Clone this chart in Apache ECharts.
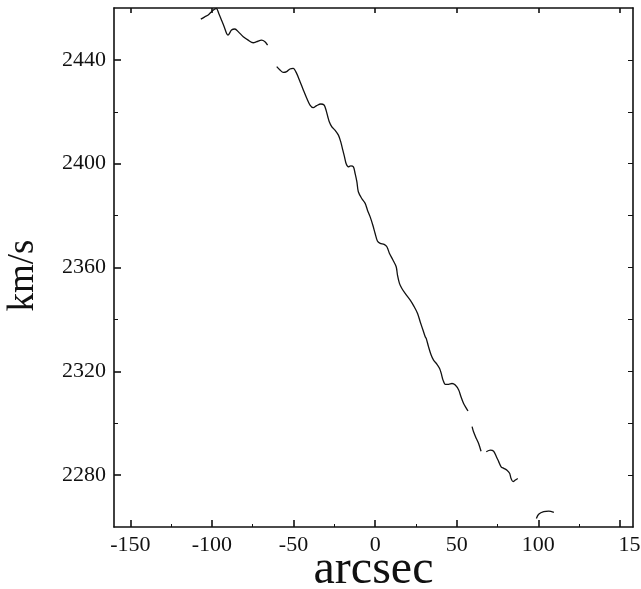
<!DOCTYPE html>
<html>
<head>
<meta charset="utf-8">
<script src="https://cdn.jsdelivr.net/npm/echarts@6/dist/echarts.min.js"></script>
<style>
html,body{margin:0;padding:0;background:#fff;overflow:hidden;}
#chart{width:641px;height:589px;}
</style>
</head>
<body>
<div id="chart"></div>
<script>
// Rotation curve: position along slit (arcsec) vs velocity (km/s); null = gap
const arcsec = [
  -106.8,-104.4,-102.3,-100.2,-98.2,-97.2,-95.8,-94.1,-92.5,-91.0,-90.1,-88.0,-85.9,-83.9,-80.8,-77.8,-74.7,-72.6,-69.6,-67.5,-65.9,
  null,
  -60.3,-58.3,-56.3,-54.2,-52.2,-50.2,-48.1,-46.0,-44.0,-41.9,-39.9,-37.9,-35.8,-33.3,-31.3,-30.1,-29.0,-28.1,-26.6,-24.6,-22.5,-21.1,-19.8,-18.8,-17.8,-16.4,-14.9,-13.3,-12.3,-11.2,-10.3,-8.2,-6.1,-4.7,-3.1,-1.4,0.0,1.4,3.1,5.5,7.2,8.8,10.9,12.9,13.7,14.9,16.4,18.4,21.5,23.9,26.0,27.6,29.3,30.7,31.3,32.7,34.2,35.8,37.9,39.5,40.5,41.6,43.0,45.0,47.1,49.1,51.2,52.6,54.2,55.9,56.9,
  null,
  59.4,60.3,62.0,63.4,64.9,
  null,
  68.1,70.6,72.6,74.3,75.7,77.2,78.8,80.8,82.4,83.3,84.5,85.9,87.4,
  null,
  98.8,100.2,103.3,106.4,109.5
];
const velocity = [
  2455.7,2456.6,2457.3,2458.6,2459.6,2459.8,2457.9,2455.3,2452.8,2450.2,2449.6,2451.5,2451.9,2450.9,2448.9,2447.6,2446.6,2447.0,2447.6,2447.0,2445.7,
  null,
  2437.4,2436.1,2435.2,2435.5,2436.5,2436.7,2434.8,2431.6,2428.4,2425.2,2422.6,2421.6,2422.4,2423.0,2422.6,2420.7,2418.1,2416.2,2414.3,2412.9,2411.0,2408.5,2405.2,2402.7,2400.1,2398.8,2399.2,2398.8,2396.3,2393.1,2389.2,2386.6,2384.7,2382.1,2379.6,2376.3,2373.1,2370.2,2369.3,2368.9,2368.0,2365.4,2362.9,2360.3,2357.1,2353.9,2351.9,2350.0,2347.4,2344.9,2342.3,2339.1,2335.9,2333.3,2332.7,2329.5,2326.5,2324.3,2322.7,2321.1,2319.2,2316.6,2315.0,2315.0,2315.3,2314.7,2312.8,2310.2,2307.6,2305.7,2304.7,
  null,
  2298.7,2296.7,2294.1,2292.2,2289.2,
  null,
  2289.0,2289.6,2289.2,2287.1,2285.2,2283.2,2282.6,2281.9,2280.7,2278.7,2277.5,2278.1,2278.7,
  null,
  2263.3,2264.9,2265.9,2266.1,2265.6
];
const xTicks = [-150,-100,-50,0,50,100,150];
const xMinorTicks = [-125,-75,-25,25,75,125];
const yTicks = [2280,2320,2360,2400,2440];
const yMinorTicks = [2300,2340,2380,2420];
const xName = 'arcsec';
const yName = 'km/s';

const FONT = "'Liberation Serif','Times New Roman',serif";
const INK = '#111';

// split into segments at nulls
const segments = [];
let cur = [];
arcsec.forEach((x, i) => {
  if (x === null || velocity[i] === null) {
    if (cur.length) segments.push(cur);
    cur = [];
  } else {
    cur.push([x, velocity[i]]);
  }
});
if (cur.length) segments.push(cur);

const X_MIN = -160, X_MAX = 158, Y_MIN = 2260, Y_MAX = 2460;
const lineStyle = {color: INK, width: 1.6};

const chart = echarts.init(document.getElementById('chart'), null, {renderer: 'canvas'});
chart.setOption({
  backgroundColor: '#fff',
  animation: false,
  grid: {left: 114, right: 8, top: 8, bottom: 62, containLabel: false, outerBoundsMode: 'none'},
  xAxis: [
    {
      type: 'value', min: X_MIN, max: X_MAX, position: 'bottom',
      axisLine: {show: true, onZero: false, lineStyle: lineStyle},
      axisTick: {show: true, inside: true, length: 7, customValues: xTicks, lineStyle: lineStyle},
      axisLabel: {
        show: true, customValues: xTicks, margin: 7,
        fontFamily: FONT, fontSize: 22, color: INK,
        formatter: v => v === 150 ? '{c|' + v + '}' : String(v),
        rich: {c: {fontFamily: FONT, fontSize: 22, color: INK, padding: [0, 0, 0, 30]}}
      },
      splitLine: {show: false},
      name: xName, nameLocation: 'middle', nameGap: 19, nameMoveOverlap: false,
      nameTextStyle: {fontFamily: FONT, fontSize: 48, color: INK}
    },
    {
      type: 'value', min: X_MIN, max: X_MAX, position: 'bottom',
      axisLine: {show: false, onZero: false},
      axisTick: {show: true, inside: true, length: 3, customValues: xMinorTicks, lineStyle: {color: INK, width: 1}},
      axisLabel: {show: false}, splitLine: {show: false}
    },
    {
      type: 'value', min: X_MIN, max: X_MAX, position: 'top',
      axisLine: {show: true, onZero: false, lineStyle: lineStyle},
      axisTick: {show: true, inside: true, length: 5, customValues: xTicks, lineStyle: lineStyle},
      axisLabel: {show: false}, splitLine: {show: false}
    }
  ],
  yAxis: [
    {
      type: 'value', min: Y_MIN, max: Y_MAX, position: 'left',
      axisLine: {show: true, onZero: false, lineStyle: lineStyle},
      axisTick: {show: true, inside: true, length: 7, customValues: yTicks, lineStyle: lineStyle},
      axisLabel: {
        show: true, customValues: yTicks, margin: 8,
        fontFamily: FONT, fontSize: 22, color: INK,
        formatter: v => String(v)
      },
      splitLine: {show: false},
      name: yName, nameLocation: 'middle', nameGap: 72,
      nameTextStyle: {fontFamily: FONT, fontSize: 37, color: INK, padding: [0, 16, 0, 0]}
    },
    {
      type: 'value', min: Y_MIN, max: Y_MAX, position: 'left',
      axisLine: {show: false, onZero: false},
      axisTick: {show: true, inside: true, length: 4, customValues: yMinorTicks, lineStyle: {color: INK, width: 1}},
      axisLabel: {show: false}, splitLine: {show: false}
    },
    {
      type: 'value', min: Y_MIN, max: Y_MAX, position: 'right',
      axisLine: {show: true, onZero: false, lineStyle: lineStyle},
      axisTick: {show: true, inside: true, length: 5, customValues: yTicks.concat(yMinorTicks), lineStyle: {color: INK, width: 1}},
      axisLabel: {show: false}, splitLine: {show: false}
    }
  ],
  series: segments.map(seg => ({
    type: 'line', xAxisIndex: 0, yAxisIndex: 0,
    data: seg, showSymbol: false, smooth: 0.3,
    lineStyle: {color: INK, width: 1.3}, silent: true
  }))
});
</script>
</body>
</html>
